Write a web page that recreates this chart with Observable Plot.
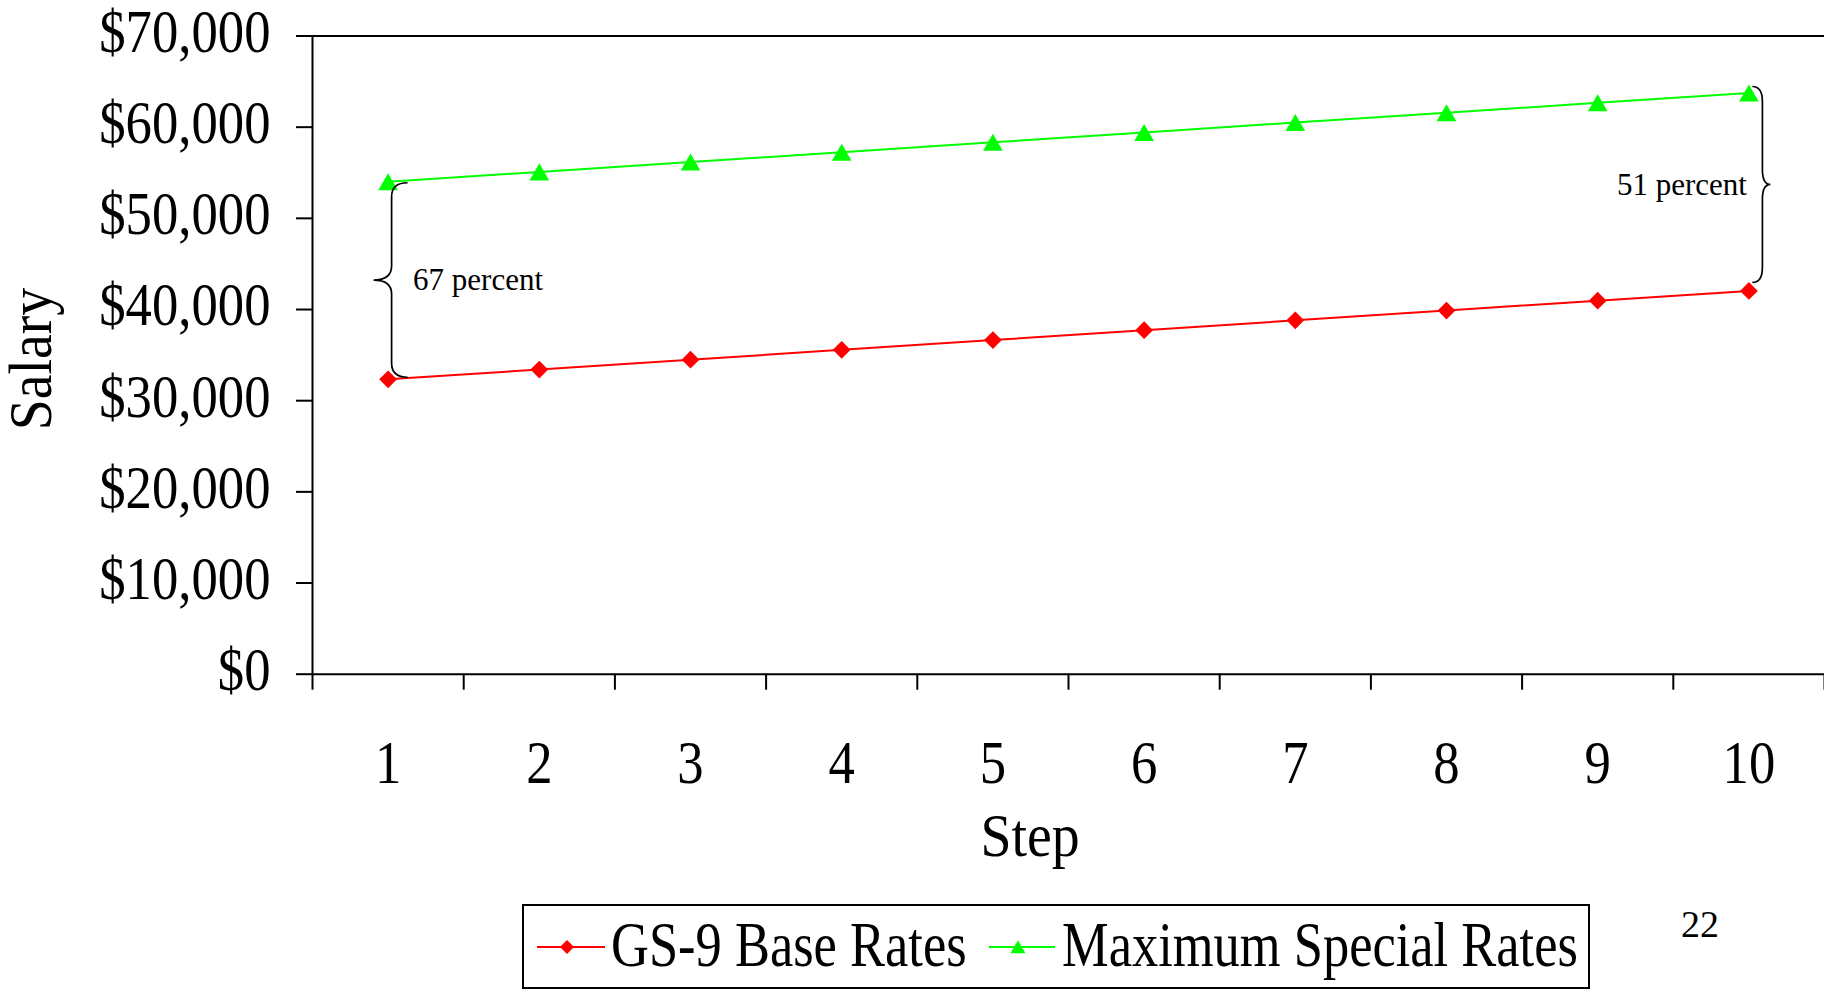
<!DOCTYPE html>
<html>
<head>
<meta charset="utf-8">
<script src="https://cdn.jsdelivr.net/npm/d3@7"></script>
<script src="https://cdn.jsdelivr.net/npm/@observablehq/plot@0.6"></script>
<style>
  html, body { margin: 0; padding: 0; background: #fff; }
  #chart { width: 1824px; height: 992px; position: relative; overflow: hidden; background: #fff; }
  #chart svg { display: block; }
</style>
</head>
<body>
<div id="chart"></div>
<script>
// ---- data ----
const steps = [1, 2, 3, 4, 5, 6, 7, 8, 9, 10];
const gs9BaseRates = [32342, 33420, 34498, 35576, 36654, 37732, 38810, 39888, 40966, 42044];
const maxSpecialRates = [54011, 55093, 56175, 57257, 58339, 59421, 60503, 61585, 62667, 63749];
const seriesNames = ["GS-9 Base Rates", "Maximum Special Rates"];
const seriesColors = ["#ff0000", "#00ff00"];
const seriesSymbols = ["diamond2", "triangle"];
const yTickValues = [0, 10000, 20000, 30000, 40000, 50000, 60000, 70000];
const xTickLabels = ["1", "2", "3", "4", "5", "6", "7", "8", "9", "10"];
const annotationLabels = ["67 percent", "51 percent"];
const yTitle = "Salary";
const xTitle = "Step";
const pageNumber = "22";

// ---- derived tables ----
const data = steps.flatMap((s, i) => [
  {step: s, value: gs9BaseRates[i], series: seriesNames[0]},
  {step: s, value: maxSpecialRates[i], series: seriesNames[1]}
]);
const bounds = d3.range(steps.length + 1).map(i => steps[0] - 0.5 + i);
const last = steps.length - 1;
const annotations = [
  {step: steps[0], top: maxSpecialRates[0], bottom: gs9BaseRates[0], label: annotationLabels[0],
   dir: 1, off: 4, tip: 16, cusp: 18, r: 14, dTop: 1.5, dBot: -1.5, dx: 25, dy: 0, anchor: "start"},
  {step: steps[last], top: maxSpecialRates[last], bottom: gs9BaseRates[last], label: annotationLabels[1],
   dir: -1, off: 14, tip: 10, cusp: 8, r: 15, dTop: -6, dBot: -8, dx: -2, dy: -7, anchor: "end"}
].map(a => ({...a, mid: (a.top + a.bottom) / 2}));

const W = 1824, H = 895;
const FONT = "'Liberation Serif', 'Times New Roman', serif";

function braces(index, scales) {
  const {x, y} = scales;
  const g = d3.create("svg:g").attr("fill", "none").attr("stroke", "black").attr("stroke-width", 1.7);
  for (const a of annotations) {
    const x0 = x(a.step) + a.off;
    const yt = y(a.top) + a.dTop, yb = y(a.bottom) + a.dBot, ym = (yt + yb) / 2;
    const s = a.dir, w = a.tip, c = a.cusp, r = a.r;
    g.append("path").attr("d",
      `M${x0 + s * w},${yt} Q${x0},${yt} ${x0},${yt + r} L${x0},${ym - r} ` +
      `Q${x0},${ym} ${x0 - s * c},${ym} Q${x0},${ym} ${x0},${ym + r} ` +
      `L${x0},${yb - r} Q${x0},${yb} ${x0 + s * w},${yb}`);
  }
  return g.node();
}

const chart = Plot.plot({
  width: W,
  height: H,
  marginTop: 35.5,
  marginBottom: H - 673.7,
  marginLeft: 312,
  marginRight: 0,
  style: {fontFamily: FONT, fontSize: "62px", background: "white", color: "black", overflow: "visible"},
  x: {type: "linear", domain: [bounds[0], bounds[bounds.length - 1]], label: null},
  y: {domain: [yTickValues[0], yTickValues[yTickValues.length - 1]], label: null},
  color: {domain: seriesNames, range: seriesColors},
  symbol: {domain: seriesNames, range: seriesSymbols},
  marks: [
    Plot.axisY({ticks: yTickValues, tickSize: 16, tickFormat: () => "", strokeWidth: 2, label: null}),
    Plot.axisY({ticks: yTickValues, tickSize: 0, tickPadding: 42, dy: -4, tickFormat: d3.format("$,"), label: null}),
    Plot.axisX({ticks: bounds, tickSize: 16, tickFormat: () => "", strokeWidth: 2, label: null}),
    Plot.axisX({ticks: steps, tickSize: 0, tickPadding: 65, tickFormat: d => xTickLabels[steps.indexOf(d)], label: null}),
    Plot.ruleY([yTickValues[0], yTickValues[yTickValues.length - 1]], {stroke: "black", strokeWidth: 2}),
    Plot.ruleX([bounds[0]], {stroke: "black", strokeWidth: 2}),
    Plot.line(data, {x: "step", y: "value", z: "series", stroke: "series", strokeWidth: 2}),
    Plot.dot(data, {filter: d => d.series === seriesNames[0], x: "step", y: "value", symbol: "series", fill: "series", r: 8}),
    Plot.dot(data, {filter: d => d.series === seriesNames[1], x: "step", y: "value", symbol: "series", fill: "series", r: 7.3, dy: 2.8}),
    braces,
    Plot.text(annotations, {x: "step", y: "mid", text: "label", fontSize: 31, fill: "black",
      filter: a => a.anchor === "start", textAnchor: "start", dx: annotations[0].dx}),
    Plot.text(annotations, {x: "step", y: "mid", text: "label", fontSize: 31, fill: "black",
      filter: a => a.anchor === "end", textAnchor: "end", dx: annotations[1].dx, dy: annotations[1].dy}),
    Plot.text([yTitle], {frameAnchor: "left", textAnchor: "middle", lineAnchor: "middle", rotate: -90,
      dx: -281, dy: 4, fill: "black"}),
    Plot.text([xTitle], {frameAnchor: "bottom", textAnchor: "middle", lineAnchor: "middle",
      dx: -38.5, dy: 162, fill: "black"})
  ]
});

// condensed serif look for the large labels
function condenseEls(els, k) {
  els.forEach(t => {
    const tr = t.getAttribute("transform") || "";
    t.setAttribute("transform", `${tr} scale(${k},1)`);
  });
}
condenseEls(chart.querySelectorAll('g[aria-label="y-axis tick label"] text'), 0.85);
condenseEls(chart.querySelectorAll('g[aria-label="x-axis tick label"] text'), 0.85);
condenseEls([...chart.querySelectorAll("text")].filter(t => t.textContent === yTitle || t.textContent === xTitle), 0.9);

const root = document.getElementById("chart");
root.appendChild(chart);

// ---- legend (below the plot) ----
const LH = 992 - H;
const legend = d3.create("svg").attr("width", W).attr("height", LH)
  .style("display", "block").style("font-family", FONT);
legend.append("rect").attr("x", 523).attr("y", 10).attr("width", 1066).attr("height", 83)
  .attr("fill", "white").attr("stroke", "black").attr("stroke-width", 2);
const items = [
  {x1: 537, x2: 605, cx: 567, tx: 611, sym: d3.symbolDiamond2, size: 125, sdy: 0},
  {x1: 989, x2: 1055, cx: 1018, tx: 1062, sym: d3.symbolTriangle, size: 97, sdy: 2}
];
items.forEach((it, i) => {
  const yy = 52;
  legend.append("line").attr("x1", it.x1).attr("x2", it.x2).attr("y1", yy).attr("y2", yy)
    .attr("stroke", seriesColors[i]).attr("stroke-width", 2);
  legend.append("path").attr("d", d3.symbol(it.sym, it.size)())
    .attr("transform", `translate(${it.cx},${yy + it.sdy})`).attr("fill", seriesColors[i]);
  legend.append("text").attr("transform", `translate(${it.tx},71) scale(0.82,1)`)
    .attr("font-size", 64).attr("fill", "black").text(seriesNames[i]);
});
legend.append("text").attr("x", 1681).attr("y", 42).attr("font-size", 38).attr("fill", "black").text(pageNumber);
root.appendChild(legend.node());
</script>
</body>
</html>
